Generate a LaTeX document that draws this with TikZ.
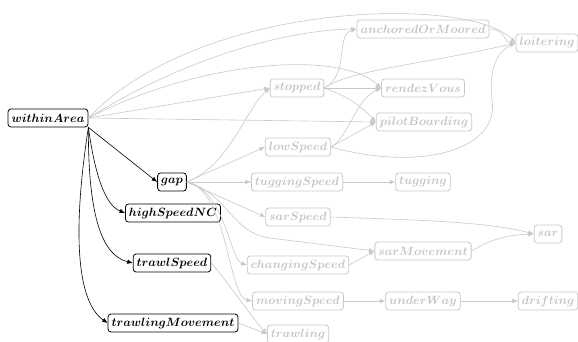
\documentclass[tikz,border=0pt]{standalone}
\usetikzlibrary{arrows.meta}
\definecolor{lg}{RGB}{200,200,200}
\definecolor{lgt}{RGB}{195,195,195}
\tikzset{
  box/.style={rounded corners=3pt, minimum height=18pt, inner xsep=3.5pt, inner ysep=2pt,
    font=\fontsize{12}{14}\selectfont\boldmath},
  blk/.style={box, draw=black, line width=0.8pt, text=black},
  gry/.style={box, draw=lg, line width=0.8pt, text=lgt},
  ge/.style={draw=lg, line width=0.6pt, -{Latex[length=5.5pt,width=4.5pt]}},
  be/.style={draw=black, line width=0.6pt, -{Latex[length=5.5pt,width=4.5pt]}},
}
\begin{document}
\begin{tikzpicture}[x=1pt,y=-1pt]
\useasboundingbox (0,0) rectangle (578,342);

% active nodes
\node[blk] (wa)  at (48,118)  {$withinArea$};
\node[blk] (gap) at (172,182) {$gap$};
\node[blk] (hs)  at (173,213) {$highSpeedNC$};
\node[blk] (tsp) at (172,263) {$trawlSpeed$};
\node[blk] (tm)  at (173,323) {$trawlingMovement$};

% inactive nodes
\node[gry] (st)  at (297,88)  {$stopped$};
\node[gry] (ls)  at (298,147) {$lowSpeed$};
\node[gry] (tgs) at (297,182) {$tuggingSpeed$};
\node[gry] (tg)  at (423,182) {$tugging$};
\node[gry] (ss)  at (298,217) {$sarSpeed$};
\node[gry] (sar) at (548,234) {$sar$};
\node[gry] (sm)  at (423,251) {$sarMovement$};
\node[gry] (cs)  at (298,265) {$changingSpeed$};
\node[gry] (ms)  at (298,301) {$movingSpeed$};
\node[gry] (uw)  at (423,301) {$underWay$};
\node[gry] (dr)  at (548,301) {$drifting$};
\node[gry] (tr)  at (298,334) {$trawling$};
\node[gry] (am)  at (423,29)  {$anchoredOrMoored$};
\node[gry] (lo)  at (547,43)  {$loitering$};
\node[gry] (rv)  at (423,88)  {$rendezVous$};
\node[gry] (pb)  at (424,122) {$pilotBoarding$};

% withinArea, inactive targets
\draw[ge] (wa.east) .. controls (200,0) and (470,-5) .. (lo.west);
\draw[ge] (wa.east) .. controls (190,55) and (290,30) .. (am.west);
\draw[ge] (wa.east) .. controls (200,60) and (340,50) .. (rv.west);
\draw[ge] (wa.east) -- (st.west);
\draw[ge] (wa.east) -- (pb.west);

% withinArea, active targets
\draw[be] (wa.south east) -- (gap.west);
\draw[be] (wa.south east) .. controls (95,175) and (105,205) .. (hs.west);
\draw[be] (wa.south east) .. controls (88,210) and (100,255) .. (tsp.west);
\draw[be] (wa.south east) .. controls (74,220) and (74,300) .. (tm.west);

% stopped
\draw[ge] (st.east) .. controls (350,75) and (335,35) .. (am.west);
\draw[ge] (st.east) .. controls (350,70) and (420,65) .. (lo.west);
\draw[ge] (st.east) -- (rv.west);
\draw[ge] (st.east) .. controls (345,95) and (360,105) .. (pb.west);

% lowSpeed
\draw[ge] (ls.east) .. controls (350,135) and (355,100) .. (rv.west);
\draw[ge] (ls.east) -- (pb.west);
\draw[ge] (ls.east) .. controls (420,172) and (500,150) .. (492,100)
                    .. controls (488,65) and (500,50) .. (lo.west);

% anchoredOrMoored
\draw[ge] (am.east) .. controls (505,29) and (505,43) .. (lo.west);

% gap
\draw[ge] (gap.east) .. controls (230,165) and (245,110) .. (st.west);
\draw[ge] (gap.east) -- (ls.west);
\draw[ge] (gap.east) -- (tgs.west);
\draw[ge] (gap.east) -- (ss.west);
\draw[ge] (gap.east) .. controls (230,195) and (230,232) .. (270,238) -- (sm.west);
\draw[ge] (gap.east) .. controls (225,190) and (230,260) .. (cs.west);
\draw[ge] (gap.east) .. controls (228,190) and (228,297) .. (ms.west);

% chains
\draw[ge] (tgs.east) -- (tg.west);
\draw[ge] (ss.east) .. controls (420,220) and (490,222) .. (sar.west);
\draw[ge] (sm.east) .. controls (490,240) and (505,235) .. (sar.west);
\draw[ge] (cs.east) -- (sm.west);
\draw[ge] (ms.east) -- (uw.west);
\draw[ge] (uw.east) -- (dr.west);
\draw[ge] (tsp.east) .. controls (230,285) and (250,315) .. (tr.west);
\draw[ge] (tm.east) -- (tr.west);
\end{tikzpicture}
\end{document}
